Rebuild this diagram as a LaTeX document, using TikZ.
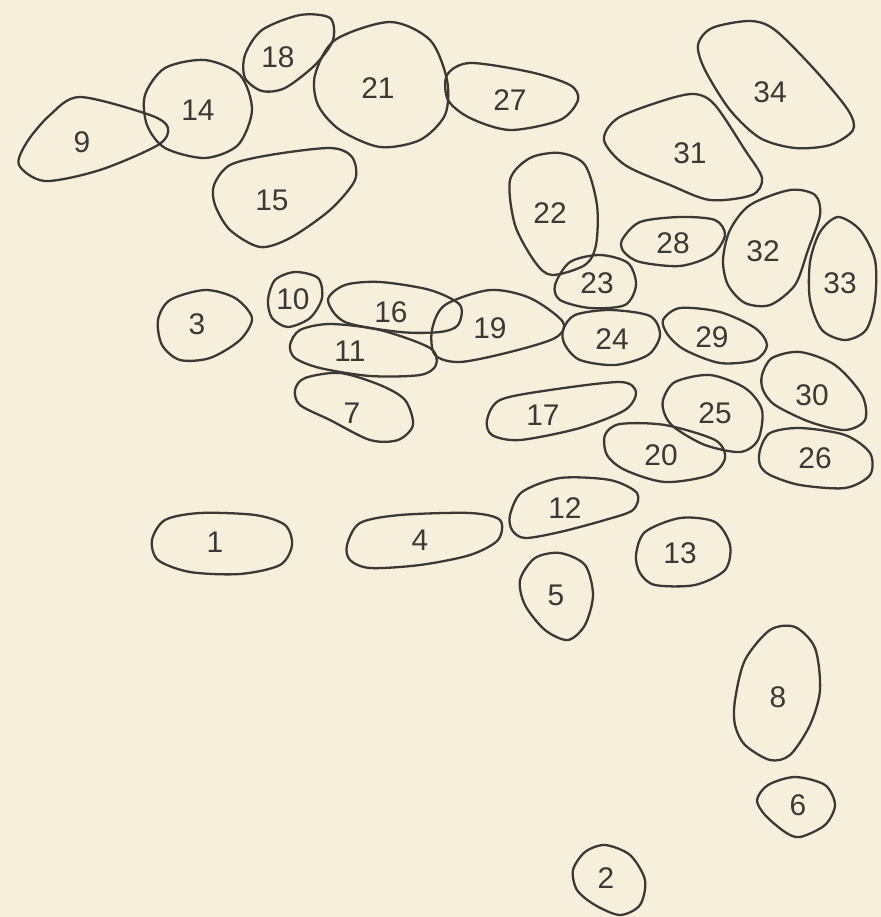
\documentclass[tikz,border=0pt]{standalone}
\usepackage{fontspec}
\setmainfont{Liberation Sans}
\definecolor{paper}{HTML}{F5EFDB}
\definecolor{ink}{HTML}{3B3835}
\tikzset{
  blob/.style={draw=ink, line width=1.3pt, line join=round},
  num/.style={text=ink, font=\fontsize{17}{20}\selectfont, inner sep=0pt},
}
\begin{document}
\begin{tikzpicture}[x=0.02cm, y=-0.02cm]
    \fill[paper] (0,0) rectangle (881,917);
    % top row
    \draw[blob] plot[smooth cycle] coordinates {(19,165) (45,181) (100,170) (158,145) (168,128) (150,115) (80,97) (50,115) (27,142)};
    \node[num] (n9) at (82,142) {9};
    \draw[blob] plot[smooth cycle] coordinates {(145,95) (165,68) (205,60) (240,75) (252,110) (238,145) (205,158) (165,148) (147,125)};
    \node[num] (n14) at (198,110) {14};
    \draw[blob] plot[smooth cycle] coordinates {(245,55) (262,30) (300,15) (330,18) (333,40) (315,65) (285,88) (262,91) (245,78)};
    \node[num] (n18) at (278,57) {18};
    \draw[blob] plot[smooth cycle] coordinates {(315,75) (335,40) (390,22) (430,40) (447,80) (445,115) (420,140) (380,147) (340,130) (318,105)};
    \node[num] (n21) at (378,88) {21};
    \draw[blob] plot[smooth cycle] coordinates {(447,75) (470,63) (530,72) (570,85) (578,100) (560,120) (510,130) (470,118) (448,100)};
    \node[num] (n27) at (510,100) {27};
    \draw[blob] plot[smooth cycle] coordinates {(698,45) (712,28) (750,21) (775,30) (815,70) (848,110) (853,130) (830,145) (795,148) (760,138) (730,110) (705,70)};
    \node[num] (n34) at (770,92) {34};
    \draw[blob] plot[smooth cycle] coordinates {(604,140) (618,118) (665,100) (695,94) (715,105) (745,150) (762,178) (752,195) (710,200) (670,185) (625,165)};
    \node[num] (n31) at (690,153) {31};
    \draw[blob] plot[smooth cycle] coordinates {(214,185) (230,165) (270,155) (330,148) (352,157) (355,180) (330,210) (290,238) (260,247) (230,230) (215,205)};
    \node[num] (n15) at (272,200) {15};
    % middle
    \draw[blob] plot[smooth cycle] coordinates {(510,180) (530,158) (560,153) (585,165) (597,205) (596,245) (585,265) (552,275) (535,262) (515,225)};
    \node[num] (n22) at (550,213) {22};
    \draw[blob] plot[smooth cycle] coordinates {(555,285) (570,262) (600,255) (628,263) (636,285) (625,305) (590,308) (560,300)};
    \node[num] (n23) at (597,283) {23};
    \draw[blob] plot[smooth cycle] coordinates {(622,240) (640,222) (680,217) (715,220) (725,235) (712,255) (680,266) (640,262) (624,252)};
    \node[num] (n28) at (673,243) {28};
    \draw[blob] plot[smooth cycle] coordinates {(723,260) (730,230) (750,205) (790,190) (815,195) (820,215) (808,250) (795,285) (770,305) (745,303) (728,285)};
    \node[num] (n32) at (763,251) {32};
    \draw[blob] plot[smooth cycle] coordinates {(810,262) (820,232) (838,217) (860,230) (875,260) (875,300) (866,330) (845,340) (822,330) (810,300)};
    \node[num] (n33) at (840,283) {33};
    \draw[blob] plot[smooth cycle] coordinates {(158,320) (170,300) (205,290) (235,298) (252,318) (240,340) (210,358) (180,360) (162,345)};
    \node[num] (n3) at (197,324) {3};
    \draw[blob] plot[smooth cycle] coordinates {(268,300) (275,280) (295,272) (318,278) (322,298) (310,318) (288,327) (272,318)};
    \node[num] (n10) at (293,299) {10};
    \draw[blob] plot[smooth cycle] coordinates {(328,300) (345,285) (380,282) (430,290) (460,305) (458,325) (440,332) (400,332) (345,322)};
    \node[num] (n16) at (391,312) {16};
    \draw[blob] plot[smooth cycle] coordinates {(290,345) (300,330) (330,324) (380,330) (430,348) (436,365) (420,375) (370,376) (320,368) (295,358)};
    \node[num] (n11) at (350,351) {11};
    \draw[blob] plot[smooth cycle] coordinates {(432,330) (445,305) (490,290) (530,298) (563,322) (555,338) (510,352) (460,362) (435,355)};
    \node[num] (n19) at (490,328) {19};
    \draw[blob] plot[smooth cycle] coordinates {(295,390) (305,378) (340,373) (380,385) (405,400) (413,425) (398,440) (370,440) (330,420) (300,405)};
    \node[num] (n7) at (352,413) {7};
    \draw[blob] plot[smooth cycle] coordinates {(487,420) (500,400) (550,390) (620,382) (636,392) (625,410) (580,428) (520,440) (492,435)};
    \node[num] (n17) at (543,415) {17};
    \draw[blob] plot[smooth cycle] coordinates {(563,330) (575,315) (610,310) (650,316) (660,335) (648,355) (615,365) (580,360) (565,345)};
    \node[num] (n24) at (612,339) {24};
    \draw[blob] plot[smooth cycle] coordinates {(663,320) (680,308) (720,312) (755,328) (767,345) (755,360) (720,363) (685,350) (668,335)};
    \node[num] (n29) at (712,337) {29};
    \draw[blob] plot[smooth cycle] coordinates {(762,375) (772,358) (800,352) (835,365) (862,395) (865,420) (845,430) (810,422) (775,405) (763,390)};
    \node[num] (n30) at (812,395) {30};
    \draw[blob] plot[smooth cycle] coordinates {(663,400) (675,382) (710,375) (745,388) (762,410) (758,440) (740,452) (705,445) (675,428) (665,415)};
    \node[num] (n25) at (715,413) {25};
    \draw[blob] plot[smooth cycle] coordinates {(605,435) (620,424) (665,425) (715,440) (725,458) (710,475) (665,482) (625,470) (607,455)};
    \node[num] (n20) at (661,455) {20};
    \draw[blob] plot[smooth cycle] coordinates {(760,450) (770,433) (800,428) (845,435) (870,453) (870,475) (845,488) (800,485) (770,475) (760,465)};
    \node[num] (n26) at (815,458) {26};
    % lower part
    \draw[blob] plot[smooth cycle] coordinates {(152,540) (165,520) (200,513) (255,515) (285,525) (292,545) (280,565) (240,574) (190,572) (158,560)};
    \node[num] (n1) at (215,542) {1};
    \draw[blob] plot[smooth cycle] coordinates {(347,545) (360,523) (400,515) (470,513) (500,520) (498,540) (470,555) (420,565) (370,568) (350,560)};
    \node[num] (n4) at (420,540) {4};
    \draw[blob] plot[smooth cycle] coordinates {(510,515) (522,492) (560,478) (610,480) (637,493) (633,510) (605,520) (560,532) (525,538) (512,530)};
    \node[num] (n12) at (565,508) {12};
    \draw[blob] plot[smooth cycle] coordinates {(520,580) (535,558) (560,553) (585,565) (593,595) (585,625) (568,640) (545,630) (525,605)};
    \node[num] (n5) at (556,595) {5};
    \draw[blob] plot[smooth cycle] coordinates {(636,555) (645,532) (680,518) (715,522) (730,545) (725,570) (695,585) (655,585) (640,573)};
    \node[num] (n13) at (680,553) {13};
    \draw[blob] plot[smooth cycle] coordinates {(735,700) (745,660) (770,630) (795,627) (815,648) (820,690) (810,725) (790,755) (770,760) (745,745) (735,725)};
    \node[num] (n8) at (778,697) {8};
    \draw[blob] plot[smooth cycle] coordinates {(757,800) (768,785) (795,777) (825,785) (835,805) (825,825) (800,837) (785,832) (765,815)};
    \node[num] (n6) at (798,805) {6};
    \draw[blob] plot[smooth cycle] coordinates {(573,870) (585,852) (605,845) (630,855) (645,880) (640,905) (620,915) (595,905) (577,890)};
    \node[num] (n2) at (606,878) {2};
  \end{tikzpicture}
\end{document}
